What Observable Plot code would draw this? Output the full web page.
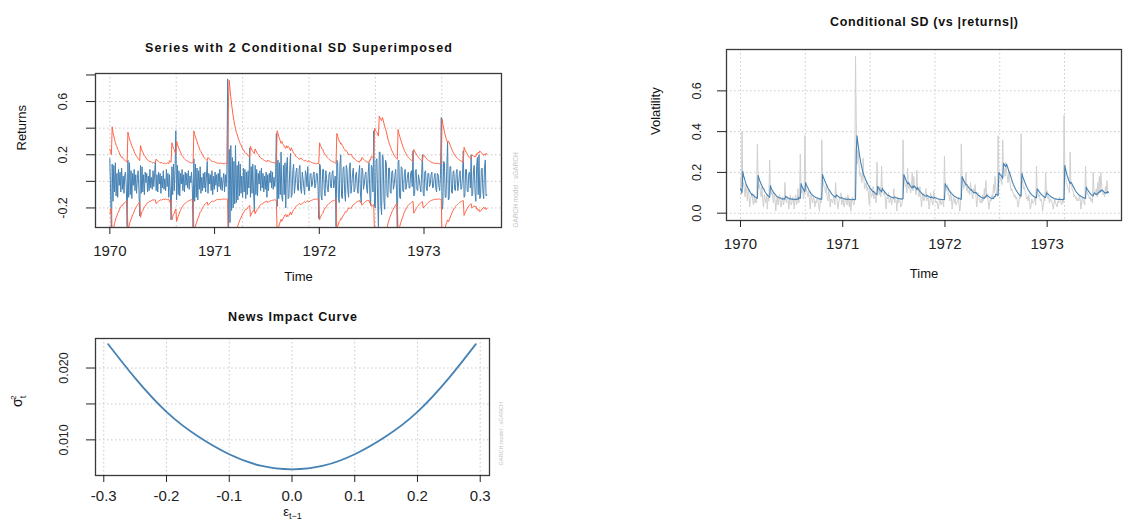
<!DOCTYPE html>
<html><head><meta charset="utf-8">
<script src="https://cdn.jsdelivr.net/npm/d3@7"></script>
<script src="https://cdn.jsdelivr.net/npm/@observablehq/plot@0.6"></script>
<style>
html,body{margin:0;padding:0;background:#fff;}
#root{position:relative;width:1126px;height:526px;overflow:hidden;}
#root svg{position:absolute;overflow:visible;}
</style></head><body><div id="root"></div>
<script>
// ---- time series (ts start / step in years) ----
const startYear = 1970;
const stepYears = 0.0075;
const returns = [
  0.17,-0.09,-0.40,0.13,-0.15,0.12,-0.08,0.14,-0.11,0.06,-0.12,0.09,-0.03,0.07,-0.08,0.10,-0.06,0.04,-0.09,0.05,
  0.07,-0.05,-0.34,0.16,-0.12,0.14,-0.10,0.08,-0.13,0.06,-0.03,0.09,-0.07,0.05,-0.09,0.02,0.08,-0.06,-0.26,0.12,
  -0.09,0.11,-0.08,0.05,-0.10,0.07,-0.01,0.06,-0.08,0.04,-0.07,0.09,-0.05,0.03,-0.06,0.08,-0.04,0.06,0.15,-0.07,
  0.05,-0.08,0.07,-0.02,0.06,-0.09,0.04,-0.05,0.08,-0.06,0.02,-0.07,0.09,-0.04,0.06,-0.12,0.05,-0.08,-0.29,0.11,
  -0.10,0.13,-0.07,0.09,0.38,-0.14,0.12,-0.10,0.08,-0.11,0.06,-0.02,0.09,-0.07,0.05,-0.08,0.07,-0.03,0.06,-0.05,
  0.08,-0.06,0.04,-0.01,0.07,-0.05,-0.36,0.17,-0.15,0.13,-0.12,0.10,-0.14,0.08,-0.06,0.11,-0.09,0.03,-0.07,0.06,
  -0.05,0.07,-0.08,0.04,0.15,-0.09,0.06,-0.02,0.05,-0.07,0.08,-0.10,0.04,-0.06,0.07,-0.03,0.05,-0.08,0.06,-0.04,
  0.09,-0.06,0.03,-0.07,0.01,0.06,-0.08,0.05,-0.04,0.07,0.77,-0.45,0.24,-0.31,0.27,-0.22,0.18,-0.20,0.15,-0.17,
  0.27,-0.16,0.12,-0.14,0.15,-0.11,0.13,-0.09,0.04,-0.12,0.10,-0.08,0.09,-0.13,0.07,-0.10,0.08,-0.05,0.25,-0.12,
  0.11,-0.09,0.13,-0.08,-0.23,0.12,-0.10,0.09,-0.11,0.06,-0.02,0.08,-0.07,0.10,-0.05,0.06,-0.08,0.04,-0.06,0.07,
  -0.12,0.05,-0.07,0.06,-0.01,0.08,-0.05,0.07,-0.06,0.03,-0.04,0.05,0.36,-0.19,0.16,-0.13,0.14,-0.10,0.22,-0.12,
  -0.15,0.12,-0.10,0.14,-0.20,0.11,0.18,-0.13,-0.12,0.09,0.21,-0.12,-0.10,0.08,0.13,-0.09,-0.03,0.07,0.10,-0.06,
  -0.07,0.09,0.12,-0.06,-0.09,0.07,0.02,-0.05,-0.10,0.08,0.05,-0.04,0.11,-0.07,-0.07,0.05,0.06,-0.04,-0.02,0.05,
  0.07,-0.05,-0.04,0.06,0.06,-0.03,-0.28,0.13,0.12,-0.11,-0.14,0.09,0.09,-0.06,-0.11,0.08,0.02,-0.06,-0.08,0.05,
  0.07,-0.04,-0.05,0.06,0.08,-0.05,-0.01,0.04,-0.34,0.16,0.14,-0.12,-0.16,0.13,0.20,-0.11,-0.13,0.10,0.11,-0.09,
  -0.15,0.12,0.09,-0.07,-0.12,0.10,0.14,-0.09,-0.03,0.06,0.10,-0.08,-0.06,0.05,0.07,-0.05,-0.09,0.06,0.12,-0.08,
  -0.16,0.10,0.08,-0.06,-0.02,0.05,0.07,-0.06,-0.09,0.07,0.14,-0.10,-0.18,0.12,0.10,-0.08,0.38,-0.19,-0.20,0.16,
  0.17,-0.14,-0.36,0.22,0.22,-0.18,-0.25,0.20,0.18,-0.15,-0.21,0.16,0.14,-0.11,-0.12,0.10,0.10,-0.08,-0.09,0.07,
  0.08,-0.06,-0.03,0.05,0.09,-0.07,-0.39,0.15,0.16,-0.12,-0.13,0.11,0.10,-0.07,-0.08,0.06,0.09,-0.06,-0.02,0.04,
  0.07,-0.05,-0.05,0.06,0.08,-0.04,0.23,-0.11,-0.10,0.08,0.09,-0.06,-0.07,0.05,0.01,-0.04,-0.08,0.06,0.20,-0.09,
  -0.11,0.07,0.08,-0.05,-0.07,0.06,0.06,-0.04,-0.02,0.05,0.07,-0.05,-0.04,0.03,0.06,-0.05,-0.08,0.06,0.05,-0.04,
  -0.07,0.05,0.48,-0.21,-0.18,0.15,0.14,-0.12,-0.12,0.10,0.30,-0.14,-0.13,0.11,0.11,-0.08,-0.09,0.07,0.08,-0.06,
  -0.07,0.06,0.09,-0.07,-0.02,0.05,0.08,-0.06,-0.05,0.04,0.23,-0.12,-0.11,0.09,0.09,-0.07,-0.08,0.06,0.07,-0.05,
  0.20,-0.11,-0.10,0.09,0.12,-0.08,-0.15,0.11,0.18,-0.10,0.20,-0.13,-0.12,0.09,0.10,-0.08,-0.13,0.10,0.16,-0.11,
  -0.10
];
const sigma = [
  0.120,0.112,0.100,0.205,0.184,0.172,0.158,0.146,0.136,0.130,0.120,0.116,0.107,0.100,0.095,0.090,0.092,0.086,0.082,0.080,
  0.077,0.074,0.072,0.185,0.172,0.160,0.150,0.142,0.134,0.124,0.122,0.112,0.105,0.099,0.094,0.090,0.085,0.082,0.078,0.135,
  0.124,0.114,0.110,0.102,0.096,0.094,0.088,0.084,0.080,0.079,0.076,0.074,0.075,0.072,0.070,0.069,0.071,0.069,0.070,0.084,
  0.080,0.076,0.075,0.073,0.070,0.069,0.071,0.068,0.067,0.069,0.068,0.066,0.067,0.070,0.068,0.067,0.078,0.074,0.072,0.145,
  0.134,0.124,0.120,0.110,0.104,0.150,0.140,0.131,0.124,0.115,0.110,0.102,0.096,0.093,0.088,0.085,0.082,0.080,0.077,0.076,
  0.074,0.073,0.071,0.070,0.069,0.070,0.069,0.190,0.176,0.168,0.158,0.150,0.140,0.134,0.124,0.116,0.113,0.106,0.099,0.095,
  0.090,0.086,0.083,0.081,0.078,0.090,0.087,0.083,0.080,0.077,0.075,0.074,0.077,0.074,0.072,0.071,0.069,0.068,0.069,0.068,
  0.067,0.069,0.068,0.067,0.067,0.066,0.066,0.068,0.067,0.066,0.068,0.300,0.380,0.345,0.318,0.290,0.268,0.246,0.228,0.210,
  0.198,0.185,0.178,0.166,0.158,0.150,0.142,0.137,0.130,0.122,0.120,0.114,0.108,0.105,0.106,0.100,0.098,0.094,0.090,0.132,
  0.124,0.118,0.112,0.110,0.104,0.122,0.115,0.110,0.104,0.101,0.096,0.091,0.088,0.085,0.086,0.082,0.080,0.078,0.077,0.075,
  0.074,0.080,0.077,0.076,0.074,0.072,0.072,0.071,0.071,0.070,0.069,0.070,0.071,0.190,0.180,0.170,0.160,0.152,0.143,0.150,
  0.142,0.138,0.132,0.126,0.124,0.134,0.126,0.132,0.128,0.122,0.115,0.126,0.119,0.112,0.106,0.104,0.099,0.094,0.091,0.090,
  0.087,0.084,0.083,0.088,0.085,0.083,0.081,0.078,0.076,0.080,0.078,0.075,0.073,0.078,0.076,0.074,0.072,0.071,0.070,0.068,
  0.068,0.068,0.067,0.066,0.067,0.067,0.066,0.145,0.136,0.130,0.124,0.121,0.112,0.106,0.100,0.099,0.094,0.089,0.086,0.083,
  0.081,0.079,0.076,0.074,0.073,0.073,0.071,0.069,0.068,0.180,0.170,0.160,0.152,0.148,0.140,0.142,0.134,0.130,0.124,0.120,
  0.114,0.116,0.112,0.106,0.100,0.102,0.099,0.102,0.097,0.092,0.088,0.087,0.083,0.080,0.078,0.076,0.074,0.074,0.072,0.080,
  0.078,0.090,0.087,0.083,0.080,0.077,0.075,0.073,0.072,0.073,0.071,0.082,0.080,0.094,0.092,0.090,0.087,0.200,0.192,0.188,
  0.184,0.178,0.170,0.245,0.238,0.232,0.228,0.240,0.230,0.218,0.205,0.198,0.186,0.174,0.160,0.150,0.140,0.132,0.124,0.116,
  0.110,0.104,0.098,0.093,0.089,0.086,0.083,0.195,0.180,0.170,0.160,0.150,0.141,0.132,0.124,0.116,0.110,0.104,0.098,0.094,
  0.090,0.087,0.084,0.081,0.079,0.077,0.075,0.120,0.114,0.109,0.103,0.098,0.094,0.090,0.086,0.083,0.080,0.078,0.077,0.100,
  0.096,0.095,0.090,0.087,0.083,0.080,0.078,0.076,0.074,0.072,0.071,0.070,0.069,0.068,0.067,0.068,0.067,0.068,0.067,0.067,
  0.066,0.068,0.067,0.235,0.215,0.200,0.186,0.174,0.162,0.154,0.145,0.152,0.146,0.138,0.130,0.124,0.116,0.110,0.104,0.099,
  0.095,0.091,0.088,0.086,0.083,0.080,0.078,0.077,0.075,0.073,0.072,0.128,0.120,0.114,0.108,0.102,0.097,0.092,0.089,0.086,
  0.084,0.100,0.098,0.094,0.092,0.096,0.093,0.104,0.102,0.110,0.106,0.114,0.112,0.108,0.104,0.100,0.098,0.102,0.098,0.106,
  0.102
];
// ---- axes / grids ----
const yearTicks = [1970, 1971, 1972, 1973];
const timeGrid = [1970, 1970.634, 1971.268, 1971.902, 1972.536, 1973.17];
const retTicks = [-0.2, 0, 0.2, 0.4, 0.6, 0.8];
const retLabels = [-0.2, 0.2, 0.6];
const retGrid = [-0.2, 0, 0.2, 0.4, 0.6];
const volTicks = [0, 0.2, 0.4, 0.6];
// ---- news impact curve ----
const nicEps = [-0.293,-0.25,-0.2,-0.15,-0.1,-0.05,0,0.05,0.1,0.15,0.2,0.25,0.293];
const nicVar = [0.02333,0.0186,0.0139,0.0105,0.0080,0.0064,0.0059,0.0064,0.0080,0.0105,0.0139,0.0186,0.02333];
const nicXTicks = [-0.3,-0.2,-0.1,0,0.1,0.2,0.3];
const nicYTicks = [0.010, 0.015, 0.020];
const nicYLabels = [0.010, 0.020];
// ---- text ----
const title1 = "Series with 2 Conditional SD Superimposed";
const title2 = "Conditional SD (vs |returns|)";
const title3 = "News Impact Curve";
const watermark = "GARCH model : sGARCH";

const FONT = '"Liberation Sans", Arial, Helvetica, sans-serif';
const BLUE = "#4682B4", RED = "#FF6347", GREY = "#d0d0d0", GRIDC = "#c9c9c9";
const series = returns.map((r, i) => ({t: startYear + i * stepYears, r, s: sigma[i]}));
const nic = nicEps.map((e, i) => ({e, v: nicVar[i]}));
const style = {fontFamily: FONT, background: "transparent", color: "#222", overflow: "visible"};
const gridOpts = {stroke: GRIDC, strokeOpacity: 1, strokeDasharray: "1.5,2.5"};
const root = document.getElementById("root");

function place(svg, left, top) { svg.style.left = left + "px"; svg.style.top = top + "px"; root.appendChild(svg); }
function fit(svg, content, len, adjust) {
  d3.select(svg).selectAll("text").filter(function() { return this.textContent === content; })
    .attr("textLength", len).attr("lengthAdjust", adjust || "spacing");
}

// Panel 1
const p1 = Plot.plot({
  width: 560, height: 300, marginLeft: 95, marginRight: 59, marginTop: 73, marginBottom: 73,
  x: {domain: [1969.863, 1973.74]}, y: {domain: [-0.347, 0.811]}, style,
  marks: [
    Plot.gridX(timeGrid, gridOpts),
    Plot.gridY(retGrid, gridOpts),
    Plot.lineY(series, {x: "t", y: "r", stroke: BLUE, strokeWidth: 1, clip: true}),
    Plot.lineY(series, {x: "t", y: d => 2 * d.s, stroke: RED, strokeWidth: 1, clip: true}),
    Plot.lineY(series, {x: "t", y: d => -2 * d.s, stroke: RED, strokeWidth: 1, clip: true}),
    Plot.frame({stroke: "#3a3a3a", strokeWidth: 1.3}),
    Plot.axisX(yearTicks, {tickSize: 7, tickPadding: 11, fontSize: 15, tickFormat: d => String(d), label: null}),
    Plot.axisY(retTicks, {tickSize: 9, tickRotate: -90, tickPadding: 20, fontSize: 12.5, label: null,
      tickFormat: d => retLabels.includes(d) ? d.toFixed(1) : ""}),
    Plot.text([title1], {frameAnchor: "top", dy: -30, fontWeight: "bold", fontSize: 12.5, fill: "#111"}),
    Plot.text(["Returns"], {frameAnchor: "left", dx: -74, rotate: -90, fontSize: 13, fill: "#111"}),
    Plot.text(["Time"], {frameAnchor: "bottom", dy: 53, fontSize: 13, fill: "#111"}),
    Plot.text([watermark], {frameAnchor: "bottom-right", dx: 16, rotate: -90, textAnchor: "start", fontSize: 6.5, fill: "#c4c4c4"})
  ]
});
fit(p1, title1, 307);
place(p1, 0, 0);

// Panel 2
const p2 = Plot.plot({
  width: 506, height: 300, marginLeft: 106, marginRight: 5, marginTop: 49, marginBottom: 80,
  x: {domain: [1969.863, 1973.727]}, y: {domain: [-0.036, 0.803]}, style,
  marks: [
    Plot.gridX(timeGrid, gridOpts),
    Plot.gridY(volTicks, gridOpts),
    Plot.lineY(series, {x: "t", y: d => Math.abs(d.r), stroke: GREY, strokeWidth: 1, clip: true}),
    Plot.lineY(series, {x: "t", y: "s", stroke: BLUE, strokeWidth: 1.1, clip: true}),
    Plot.frame({stroke: "#3a3a3a", strokeWidth: 1.3}),
    Plot.axisX(yearTicks, {tickSize: 7, tickPadding: 11, fontSize: 15, tickFormat: d => String(d), label: null}),
    Plot.axisY(volTicks, {tickSize: 9, tickRotate: -90, tickPadding: 17, fontSize: 12.5, label: null, tickFormat: d => d.toFixed(1)}),
    Plot.text([title2], {frameAnchor: "top", dy: -32, fontWeight: "bold", fontSize: 12.5, fill: "#111"}),
    Plot.text(["Volatility"], {frameAnchor: "left", dx: -71, rotate: -90, fontSize: 13, fill: "#111"}),
    Plot.text(["Time"], {frameAnchor: "bottom", dy: 57, fontSize: 13, fill: "#111"})
  ]
});
fit(p2, title2, 188);
place(p2, 620, 0);

// Panel 3
const p3 = Plot.plot({
  width: 560, height: 236, marginLeft: 95, marginRight: 71, marginTop: 48, marginBottom: 51,
  x: {domain: [-0.3132, 0.3148]}, y: {domain: [0.00504, 0.02411]}, style,
  marks: [
    Plot.gridX(nicXTicks, gridOpts),
    Plot.gridY(nicYTicks, gridOpts),
    Plot.line(nic, {x: "e", y: "v", stroke: BLUE, strokeWidth: 1.8, curve: "natural"}),
    Plot.frame({stroke: "#3a3a3a", strokeWidth: 1.3}),
    Plot.axisX(nicXTicks, {tickSize: 7, tickPadding: 8, fontSize: 15, tickFormat: d => d.toFixed(1), label: null}),
    Plot.axisY(nicYTicks, {tickSize: 9, tickRotate: -90, tickPadding: 19, fontSize: 12.5, label: null,
      tickFormat: d => nicYLabels.includes(d) ? d.toFixed(3) : ""}),
    Plot.text([title3], {frameAnchor: "top", dy: -26, fontWeight: "bold", fontSize: 12.5, fill: "#111"}),
    Plot.text(["SIGMA_LABEL"], {frameAnchor: "left", dx: -78, rotate: -90, fontSize: 14, fill: "#111"}),
    Plot.text(["EPS_LABEL"], {frameAnchor: "bottom", dy: 40, fontSize: 13, fill: "#111"}),
    Plot.text([watermark], {frameAnchor: "bottom-right", dx: 13, dy: -10, rotate: -90, textAnchor: "start", fontSize: 5.5, fill: "#c4c4c4"})
  ]
});
fit(p3, title3, 129);
d3.select(p3).selectAll("text").filter(function() { return this.textContent === "SIGMA_LABEL"; })
  .each(function() {
    const t = d3.select(this); t.text("");
    t.append("tspan").text("σ");
    t.append("tspan").attr("font-size", 9).attr("dy", "0.45em").text("t");
    t.append("tspan").attr("font-size", 8).attr("dx", "-4").attr("dy", "-1.3em").text("2");
  });
d3.select(p3).selectAll("text").filter(function() { return this.textContent === "EPS_LABEL"; })
  .each(function() {
    const t = d3.select(this); t.text("");
    t.append("tspan").text("ε");
    t.append("tspan").attr("font-size", 9).attr("dy", "0.4em").text("t−1");
  });
place(p3, 0, 290);
</script></body></html>
